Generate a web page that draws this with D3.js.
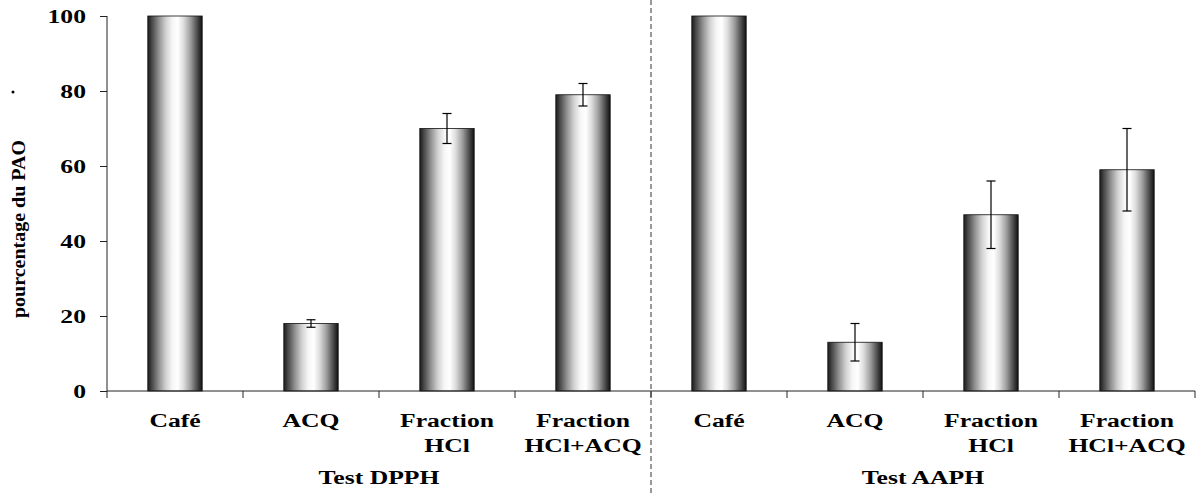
<!DOCTYPE html>
<html>
<head>
<meta charset="utf-8">
<script src="https://cdn.jsdelivr.net/npm/d3@7"></script>
<style>
  html, body { margin: 0; padding: 0; background: #fff; }
  svg { display: block; }
  text { font-family: "Liberation Serif", "Times New Roman", serif; font-weight: bold; fill: #000; }
</style>
</head>
<body>
<svg id="chart" width="1200" height="495"></svg>
<script>
// ---- data ----
const categoryKeys = ["DPPH-Cafe", "DPPH-ACQ", "DPPH-HCl", "DPPH-HClACQ", "AAPH-Cafe", "AAPH-ACQ", "AAPH-HCl", "AAPH-HClACQ"];
const categoryLabels = [["Café"], ["ACQ"], ["Fraction", "HCl"], ["Fraction", "HCl+ACQ"], ["Café"], ["ACQ"], ["Fraction", "HCl"], ["Fraction", "HCl+ACQ"]];
const values = [100, 18, 70, 79, 100, 13, 47, 59];
const errors = [0, 1, 4, 3, 0, 5, 9, 11];
const groupLabels = ["Test DPPH", "Test AAPH"];
const yTicks = [0, 20, 40, 60, 80, 100];
const yTitle = "pourcentage du PAO";

// ---- layout ----
const svg = d3.select("#chart");
const plotLeft = 107, plotRight = 1195, plotTop = 16, plotBottom = 391;
const sx = 1.35; // horizontal stretch of text

const y = d3.scaleLinear().domain([0, 100]).range([plotBottom, plotTop]);
const xCat = d3.scaleBand().domain(categoryKeys).range([plotLeft, plotRight]).padding(0);
const xBar = d3.scaleBand().domain(categoryKeys).range([plotLeft, plotRight]).paddingInner(0.6).paddingOuter(0.3);

// gradient
const defs = svg.append("defs");
const grad = defs.append("linearGradient").attr("id", "cyl").attr("x1", "0%").attr("x2", "100%").attr("y1", "0%").attr("y2", "0%");
[[0, "#1c1c1c"], [0.08, "#4a4a4a"], [0.2, "#8f8f8f"], [0.33, "#d0d0d0"], [0.45, "#f6f6f6"], [0.55, "#ffffff"], [0.66, "#dcdcdc"], [0.78, "#a0a0a0"], [0.88, "#5e5e5e"], [0.96, "#2a2a2a"], [1, "#111"]]
  .forEach(([o, c]) => grad.append("stop").attr("offset", o).attr("stop-color", c));

// bars
svg.append("g").selectAll("rect").data(categoryKeys).join("rect")
  .attr("x", d => xBar(d))
  .attr("width", xBar.bandwidth())
  .attr("y", (d, i) => y(values[i]))
  .attr("height", (d, i) => y(0) - y(values[i]))
  .attr("fill", "url(#cyl)")
  .attr("stroke", "#111")
  .attr("stroke-width", 0.8);

// error bars
const eg = svg.append("g").attr("stroke", "#000").attr("stroke-width", 1.2);
categoryKeys.forEach((k, i) => {
  if (!errors[i]) return;
  const cx = xBar(k) + xBar.bandwidth() / 2;
  const y1 = y(values[i] + errors[i]), y2 = y(values[i] - errors[i]);
  eg.append("line").attr("x1", cx).attr("x2", cx).attr("y1", y1).attr("y2", y2);
  eg.append("line").attr("x1", cx - 4.5).attr("x2", cx + 4.5).attr("y1", y1).attr("y2", y1);
  eg.append("line").attr("x1", cx - 4.5).attr("x2", cx + 4.5).attr("y1", y2).attr("y2", y2);
});

// y axis
const yAxis = svg.append("g").attr("transform", `translate(${plotLeft},0)`)
  .call(d3.axisLeft(y).tickValues(yTicks).tickSize(7).tickFormat(""));
yAxis.select(".domain").attr("stroke", "#222").attr("d", `M0,${plotTop}V${plotBottom}`);
yAxis.selectAll(".tick line").attr("stroke", "#222");

svg.append("g").selectAll("text").data(yTicks).join("text")
  .attr("transform", d => `translate(86,${y(d) + 6.5}) scale(${sx},1)`)
  .attr("text-anchor", "end")
  .attr("font-size", 19)
  .text(d => d);

// x axis
const xg = svg.append("g").attr("stroke", "#222");
xg.append("line").attr("x1", plotLeft).attr("x2", plotRight).attr("y1", plotBottom).attr("y2", plotBottom);
const tickXs = categoryKeys.map(k => xCat(k)).concat([xCat.range()[1]]);
xg.selectAll("line.t").data(tickXs).join("line").attr("class", "t")
  .attr("x1", d => d).attr("x2", d => d).attr("y1", plotBottom).attr("y2", plotBottom + 7);

// divider
const midX = xCat(categoryKeys[4]);
svg.append("line").attr("x1", midX).attr("x2", midX).attr("y1", 0).attr("y2", 495)
  .attr("stroke", "#333").attr("stroke-width", 1).attr("stroke-dasharray", "5,3");

// category labels
categoryKeys.forEach((k, i) => {
  const cx = xCat(k) + xCat.bandwidth() / 2;
  categoryLabels[i].forEach((line, j) => {
    svg.append("text")
      .attr("transform", `translate(${cx},${427 + j * 25}) scale(${sx},1)`)
      .attr("text-anchor", "middle")
      .attr("font-size", 19)
      .text(line);
  });
});

// group labels
groupLabels.forEach((g, i) => {
  const x0 = xCat(categoryKeys[i * 4]);
  const x1 = i === 0 ? xCat(categoryKeys[4]) : xCat.range()[1];
  svg.append("text")
    .attr("transform", `translate(${(x0 + x1) / 2},${484}) scale(${sx},1)`)
    .attr("text-anchor", "middle")
    .attr("font-size", 19)
    .text(g);
});

// y title (compressed)
svg.append("text")
  .attr("transform", `translate(25,229) rotate(-90)`)
  .attr("text-anchor", "middle")
  .attr("font-size", 19)
  .attr("textLength", 178)
  .attr("lengthAdjust", "spacingAndGlyphs")
  .text(yTitle);
svg.append("circle").attr("cx", 13).attr("cy", 92).attr("r", 1.5).attr("fill", "#000");
</script>
</body>
</html>
